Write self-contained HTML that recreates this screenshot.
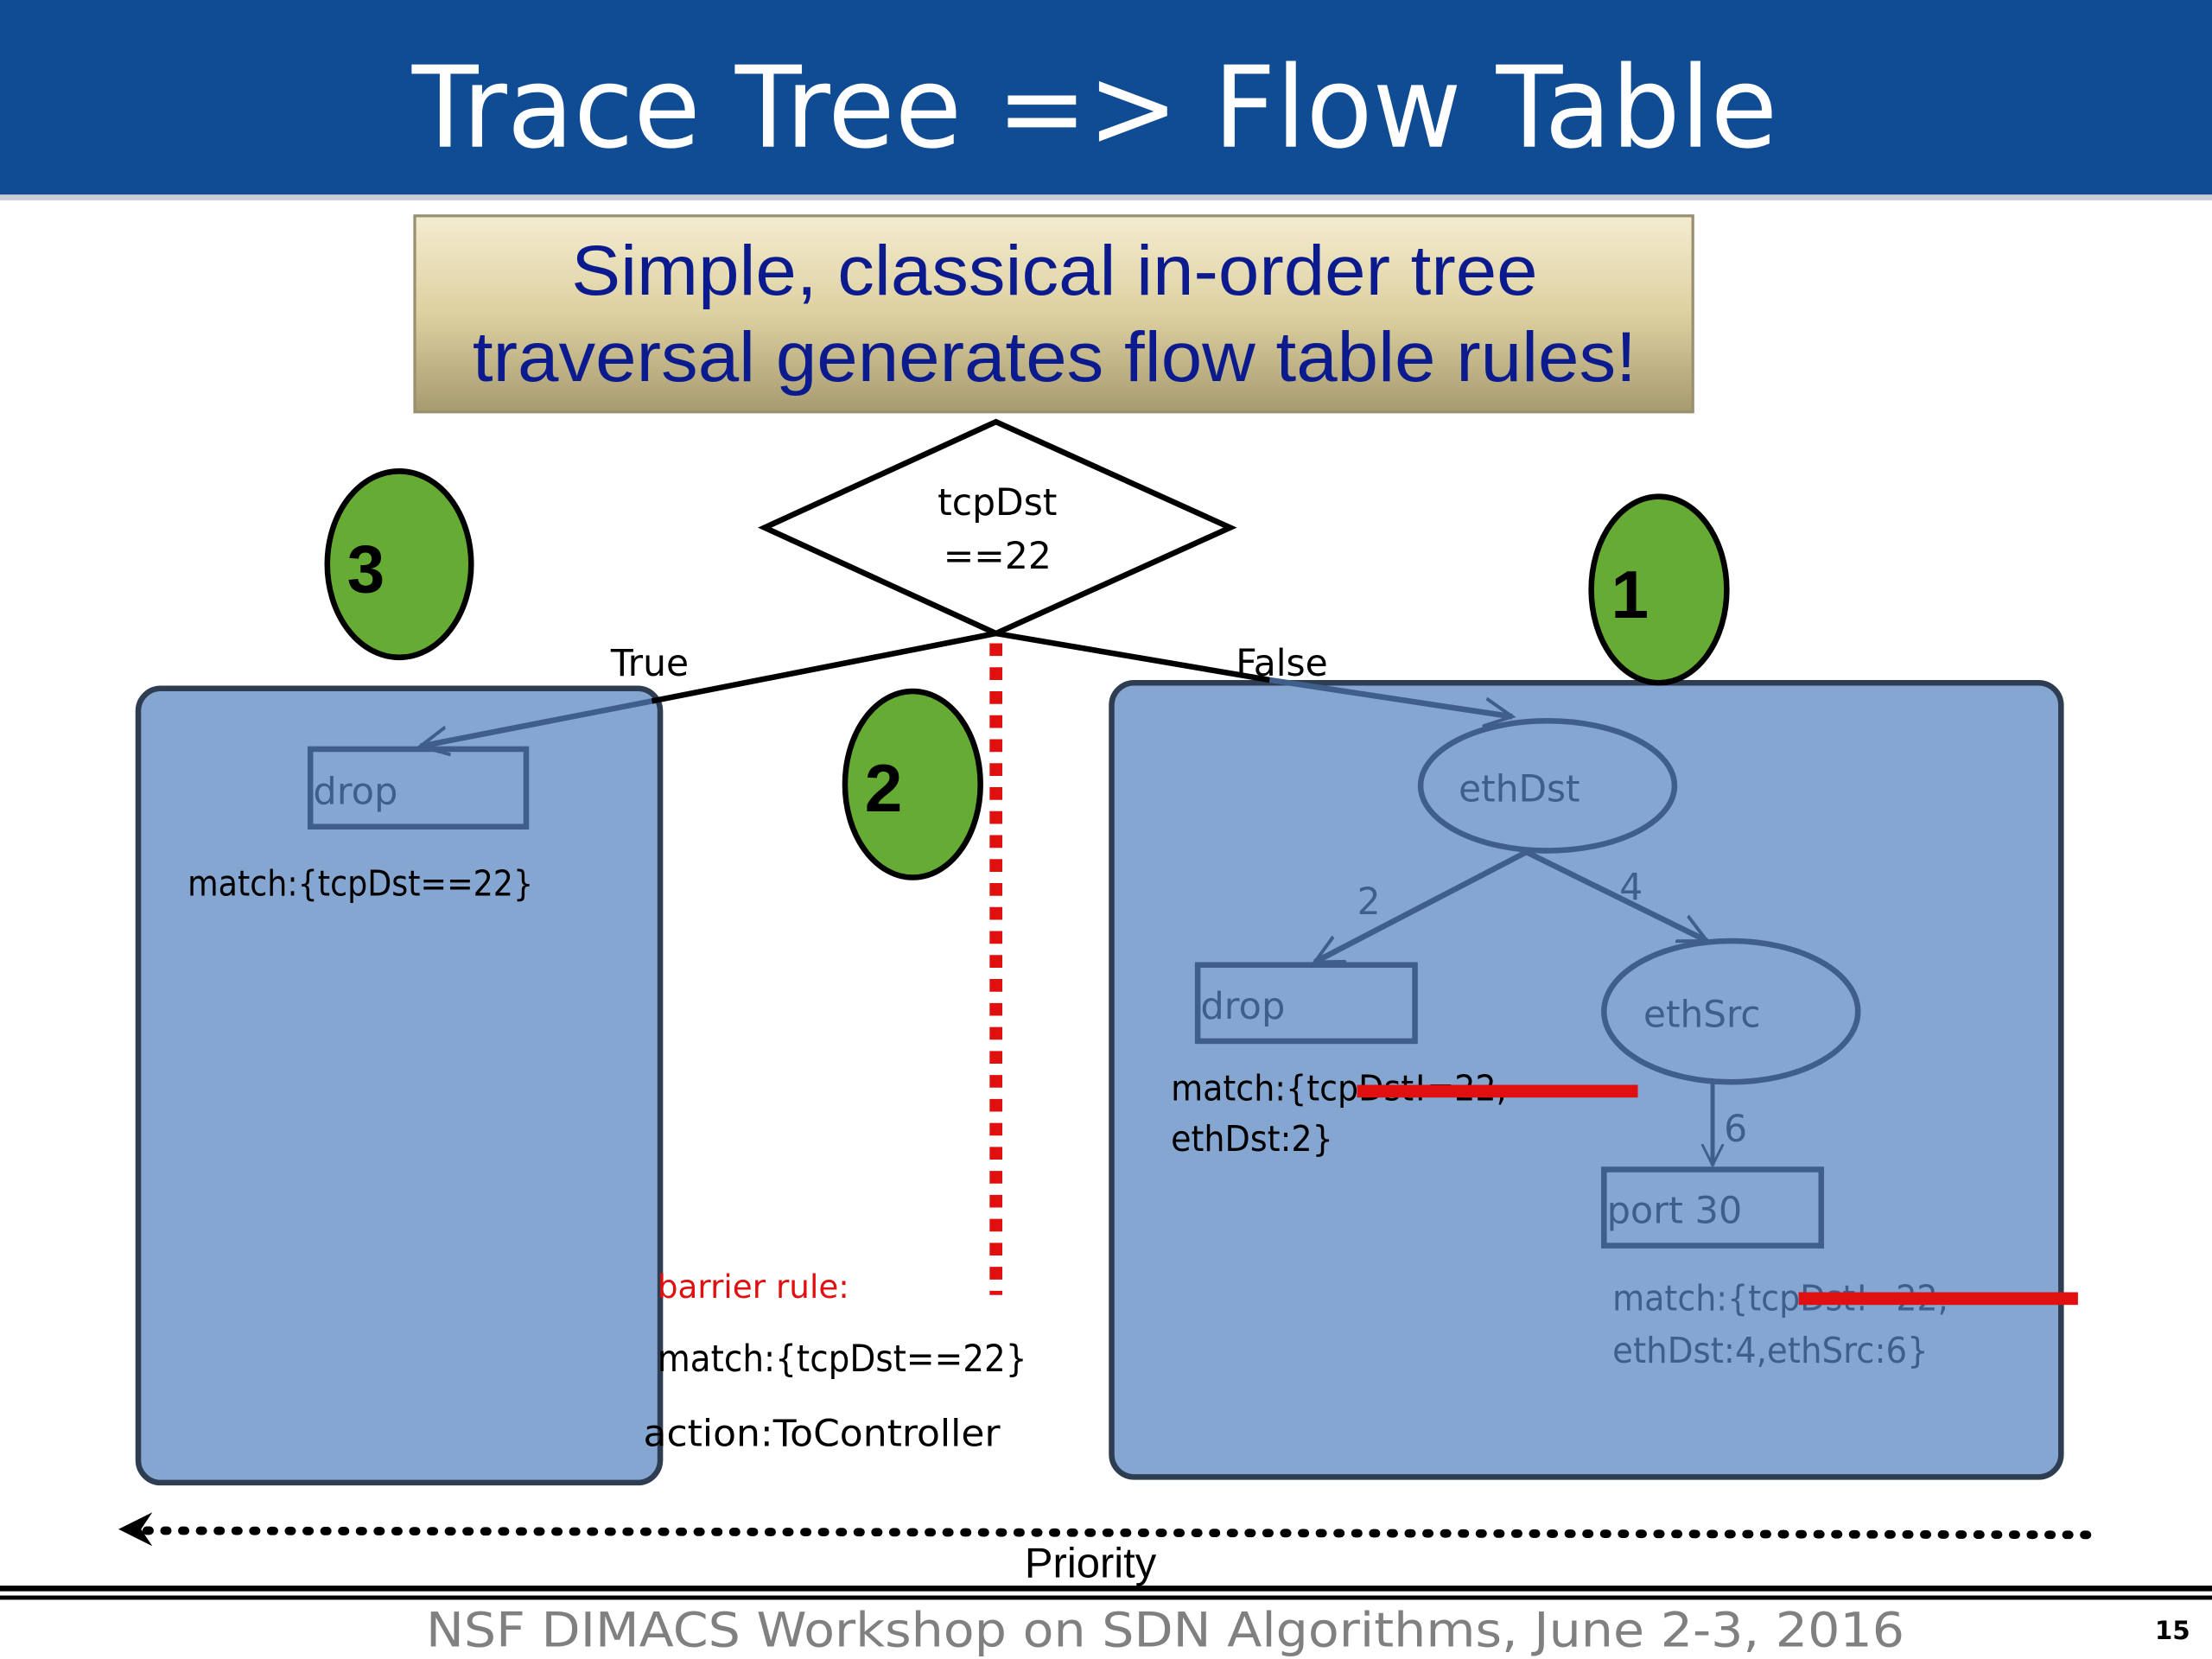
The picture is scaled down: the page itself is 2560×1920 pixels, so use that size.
<!DOCTYPE html>
<html><head><meta charset="utf-8"><style>
html,body{margin:0;padding:0;background:#fff;}
svg{display:block;}
text{font-family:"DejaVu Sans","Liberation Sans",sans-serif;}
</style></head><body>
<svg width="2560" height="1920" viewBox="0 0 1568 1176" xmlns="http://www.w3.org/2000/svg">
<defs>
<linearGradient id="g" x1="0" y1="0" x2="0" y2="1">
<stop offset="0" stop-color="#f3ecd0"/><stop offset="0.5" stop-color="#ddd0a0"/><stop offset="1" stop-color="#a69a70"/>
</linearGradient>
<marker id="ah" markerWidth="6" markerHeight="6" refX="5" refY="3" orient="auto" markerUnits="strokeWidth"><path d="M0,0.5 L5,3 L0,5.5" fill="none" stroke="#3f5f8a" stroke-width="0.6"/></marker>
</defs>
<rect x="0" y="0" width="1568" height="138" fill="#0f4c93"/>
<rect x="0" y="138" width="1568" height="4" fill="#c8ccd4"/>
<text x="292" y="104" font-size="80" fill="#fff" textLength="968" lengthAdjust="spacingAndGlyphs">Trace Tree =&gt; Flow Table</text>
<rect x="294" y="153" width="906" height="139" fill="url(#g)" stroke="#9a9070" stroke-width="2"/>
<text x="405" y="209" font-size="50" fill="#0b1a8c" style="font-family:'Liberation Sans',sans-serif" textLength="685" lengthAdjust="spacingAndGlyphs">Simple, classical in-order tree</text>
<text x="335" y="270" font-size="50" fill="#0b1a8c" style="font-family:'Liberation Sans',sans-serif" textLength="825" lengthAdjust="spacingAndGlyphs">traversal generates flow table rules!</text>
<polygon points="706,299 872,374 706,449 542,374" fill="#fff" stroke="#000" stroke-width="4"/>
<text x="707" y="365" text-anchor="middle" font-size="26">tcpDst</text>
<text x="707" y="403" text-anchor="middle" font-size="26">==22</text>
<rect x="98" y="488" width="370" height="563" rx="16" fill="#84a6d0" stroke="#2f3d52" stroke-width="4"/>
<rect x="788" y="484" width="673" height="563" rx="16" fill="#84a6d0" stroke="#2f3d52" stroke-width="4"/>
<line x1="706" y1="449" x2="462" y2="497" stroke="#000" stroke-width="4"/>
<line x1="462" y1="497" x2="298" y2="529" stroke="#3f5f8a" stroke-width="4" marker-end="url(#ah)"/>
<line x1="706" y1="449" x2="900" y2="482" stroke="#000" stroke-width="4"/>
<line x1="900" y1="482" x2="1072" y2="508" stroke="#3f5f8a" stroke-width="4" marker-end="url(#ah)"/>
<text x="433" y="479" font-size="26">True</text>
<text x="876" y="479" font-size="26">False</text>
<line x1="706" y1="456" x2="706" y2="918" stroke="#e01010" stroke-width="9" stroke-dasharray="9,8"/>
<ellipse cx="283" cy="400" rx="51" ry="66" fill="#66ab33" stroke="#000" stroke-width="4"/>
<text x="246" y="420" font-size="48" font-weight="bold" style="font-family:'Liberation Sans',sans-serif">3</text>
<ellipse cx="647" cy="556" rx="48" ry="66" fill="#66ab33" stroke="#000" stroke-width="4"/>
<text x="613" y="575" font-size="48" font-weight="bold" style="font-family:'Liberation Sans',sans-serif">2</text>
<ellipse cx="1176" cy="418" rx="48" ry="66" fill="#66ab33" stroke="#000" stroke-width="4"/>
<text x="1142" y="438" font-size="48" font-weight="bold" style="font-family:'Liberation Sans',sans-serif">1</text>
<rect x="220" y="531" width="153" height="55" fill="none" stroke="#3f5f8a" stroke-width="4"/>
<text x="222" y="570" font-size="26" fill="#3f5f8a" textLength="60" lengthAdjust="spacingAndGlyphs">drop</text>
<text x="133" y="635" font-size="25" textLength="245" lengthAdjust="spacingAndGlyphs">match:{tcpDst==22}</text>
<ellipse cx="1097" cy="557" rx="90" ry="46" fill="none" stroke="#3f5f8a" stroke-width="4"/>
<text x="1034" y="568" font-size="26" fill="#3f5f8a" textLength="86" lengthAdjust="spacingAndGlyphs">ethDst</text>
<line x1="1082" y1="604" x2="932" y2="682" stroke="#3f5f8a" stroke-width="4" marker-end="url(#ah)"/>
<line x1="1082" y1="604" x2="1210" y2="667" stroke="#3f5f8a" stroke-width="4" marker-end="url(#ah)"/>
<text x="962" y="648" font-size="26" fill="#3f5f8a">2</text>
<text x="1148" y="638" font-size="26" fill="#3f5f8a">4</text>
<rect x="849" y="684" width="154" height="54" fill="none" stroke="#3f5f8a" stroke-width="4"/>
<text x="851" y="722" font-size="26" fill="#3f5f8a" textLength="60" lengthAdjust="spacingAndGlyphs">drop</text>
<ellipse cx="1227" cy="717" rx="90" ry="50" fill="none" stroke="#3f5f8a" stroke-width="4"/>
<text x="1165" y="728" font-size="26" fill="#3f5f8a" textLength="83" lengthAdjust="spacingAndGlyphs">ethSrc</text>
<line x1="1214" y1="767" x2="1214" y2="826" stroke="#3f5f8a" stroke-width="3" marker-end="url(#ah)"/>
<text x="1222" y="809" font-size="26" fill="#3f5f8a">6</text>
<rect x="1137" y="829" width="154" height="54" fill="none" stroke="#3f5f8a" stroke-width="4"/>
<text x="1139" y="867" font-size="26" fill="#3f5f8a" textLength="96" lengthAdjust="spacingAndGlyphs">port 30</text>
<text x="830" y="780" font-size="25" textLength="238" lengthAdjust="spacingAndGlyphs">match:{tcpDst!=22,</text>
<text x="830" y="816" font-size="25" textLength="115" lengthAdjust="spacingAndGlyphs">ethDst:2}</text>
<rect x="962" y="769" width="199" height="9" fill="#e01010"/>
<text x="1143" y="929" font-size="25" fill="#3f5f8a" textLength="238" lengthAdjust="spacingAndGlyphs">match:{tcpDst!=22,</text>
<text x="1143" y="966" font-size="25" fill="#3f5f8a" textLength="224" lengthAdjust="spacingAndGlyphs">ethDst:4,ethSrc:6}</text>
<rect x="1275" y="916" width="198" height="9" fill="#e01010"/>
<text x="466" y="920" font-size="23" fill="#e01010" textLength="136" lengthAdjust="spacingAndGlyphs">barrier rule:</text>
<text x="466" y="972" font-size="26" textLength="262" lengthAdjust="spacingAndGlyphs">match:{tcpDst==22}</text>
<text x="456" y="1025" font-size="26" textLength="253" lengthAdjust="spacingAndGlyphs">action:ToController</text>
<line x1="104" y1="1085" x2="1480" y2="1088" stroke="#000" stroke-width="6" stroke-dasharray="2,10.6" stroke-linecap="round"/>
<polygon points="84,1084 108,1072 100,1084 108,1096" fill="#000"/>
<text x="773" y="1118" text-anchor="middle" font-size="30" style="font-family:'Liberation Sans',sans-serif">Priority</text>
<rect x="0" y="1124" width="1568" height="4" fill="#000"/>
<rect x="0" y="1131" width="1568" height="3" fill="#000"/>
<text x="302" y="1167" font-size="34" fill="#808080" textLength="1048" lengthAdjust="spacingAndGlyphs">NSF DIMACS Workshop on SDN Algorithms, June 2-3, 2016</text>
<text x="1540" y="1162" text-anchor="middle" font-size="18" font-weight="bold">15</text>
</svg>
</body></html>
